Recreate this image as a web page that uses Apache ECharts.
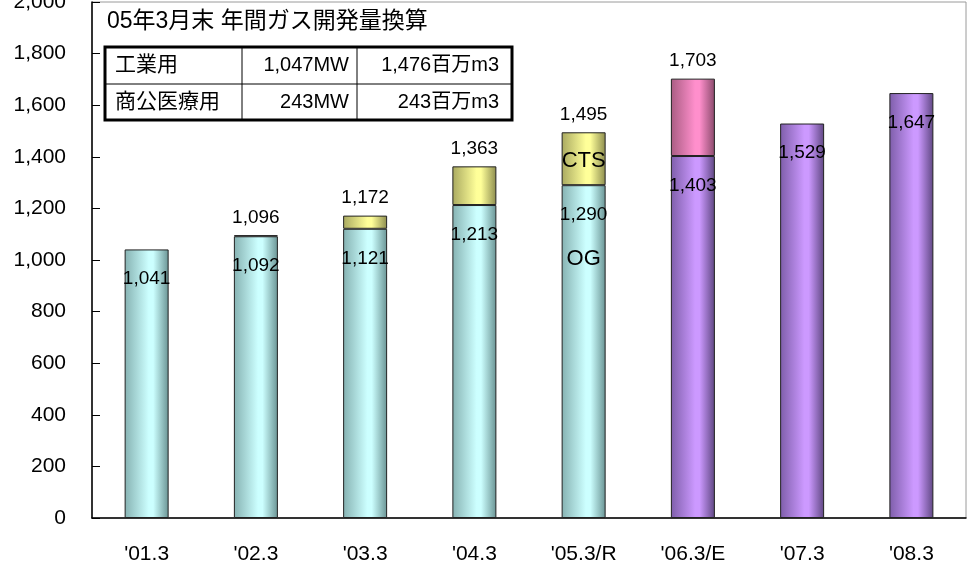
<!DOCTYPE html>
<html>
<head>
<meta charset="utf-8">
<script src="https://cdn.jsdelivr.net/npm/echarts@6/dist/echarts.min.js"></script>
<style>
  html, body { margin: 0; padding: 0; background: #fff; }
  #main { width: 968px; height: 570px; }
</style>
</head>
<body>
<div id="main"></div>
<script>
// categories and values
var categories = ["'01.3", "'02.3", "'03.3", "'04.3", "'05.3/R", "'06.3/E", "'07.3", "'08.3"];
var baseValues = [1041, 1092, 1121, 1213, 1290, 1403, 1529, 1647];
var addValues = [null, 4, 51, 150, 205, 300, null, null];
var purpleFrom = 5; // '06.3/E onward drawn purple / pink

var titleText = '05年3月末 年間ガス開発量換算';
var tableRows = [
  ['工業用', '1,047MW', '1,476百万m3'],
  ['商公医療用', '243MW', '243百万m3']
];

function grad(edge1, mid, edge2) {
  return new echarts.graphic.LinearGradient(0, 0, 1, 0, [
    { offset: 0, color: edge1 },
    { offset: 0.55, color: mid },
    { offset: 0.65, color: mid },
    { offset: 1, color: edge2 }
  ]);
}
var teal = grad('#86b2b2', '#ccffff', '#6a9494');
var yellow = grad('#a9a960', '#ffff99', '#8c8c4e');
var pink = grad('#a85c82', '#ff8fcc', '#8a4a6c');
var purple = grad('#7e5eaa', '#cc99ff', '#5f4782');

function fmt(v) { return echarts.format.addCommas(v); }

var baseData = baseValues.map(function (v, i) {
  return { value: v, itemStyle: { color: i >= purpleFrom ? purple : teal } };
});
var addData = addValues.map(function (v, i) {
  if (v == null) return '-';
  return { value: v, itemStyle: { color: i >= purpleFrom ? pink : yellow } };
});

var font = "'Liberation Sans', 'Noto Sans CJK JP', sans-serif";
var chart = echarts.init(document.getElementById('main'));

var graphics = [];
graphics.push({
  type: 'text', x: 107, y: 22,
  style: { text: titleText, font: '23px ' + font, fill: '#000', textVerticalAlign: 'middle' }
});
// table
var colX = [105, 242, 357, 512], rowY = [47, 84, 120];
tableRows.forEach(function (row, r) {
  var cy = (rowY[r] + rowY[r + 1]) / 2;
  graphics.push({ type: 'text', x: 115, y: cy,
    style: { text: row[0], font: '21px ' + font, fill: '#000', textVerticalAlign: 'middle' } });
  graphics.push({ type: 'text', x: 349, y: cy,
    style: { text: row[1], font: '20px ' + font, fill: '#000', textAlign: 'right', textVerticalAlign: 'middle' } });
  graphics.push({ type: 'text', x: 499, y: cy,
    style: { text: row[2], font: '20px ' + font, fill: '#000', textAlign: 'right', textVerticalAlign: 'middle' } });
});
graphics.push({ type: 'line', shape: { x1: colX[0], y1: rowY[1], x2: colX[3], y2: rowY[1] }, style: { stroke: '#000', lineWidth: 1 } });
graphics.push({ type: 'line', shape: { x1: colX[1], y1: rowY[0], x2: colX[1], y2: rowY[2] }, style: { stroke: '#000', lineWidth: 1 } });
graphics.push({ type: 'line', shape: { x1: colX[2], y1: rowY[0], x2: colX[2], y2: rowY[2] }, style: { stroke: '#000', lineWidth: 1 } });
graphics.push({ type: 'rect', shape: { x: colX[0], y: rowY[0], width: colX[3] - colX[0], height: rowY[2] - rowY[0] },
  style: { fill: null, stroke: '#000', lineWidth: 3 } });

var option = {
  animation: false,
  textStyle: { fontFamily: font },
  grid: { left: 92, right: 2, top: 2, bottom: 52, show: true, borderColor: '#9a9a9a', borderWidth: 1,
    outerBoundsMode: 'none', containLabel: false },
  xAxis: {
    type: 'category',
    data: categories,
    axisLine: { lineStyle: { color: '#000', width: 1.5 } },
    axisTick: { inside: true, length: 8, lineStyle: { color: '#000' } },
    axisLabel: { color: '#000', fontSize: 21, margin: 26 }
  },
  yAxis: {
    type: 'value',
    min: 0, max: 2000, interval: 200,
    axisLine: { show: true, lineStyle: { color: '#000', width: 1.5 } },
    axisTick: { show: true, inside: true, length: 8, lineStyle: { color: '#000' } },
    splitLine: { show: false },
    axisLabel: { color: '#000', fontSize: 21, margin: 26, formatter: function (v) { return fmt(v); } }
  },
  series: [
    {
      type: 'bar', stack: 'total', barWidth: 44,
      data: baseData,
      itemStyle: { borderColor: '#222', borderWidth: 1 },
      label: { show: true, position: 'insideTop', distance: 20, color: '#000', fontSize: 19,
        formatter: function (p) { return fmt(p.value); } },
      markPoint: {
        symbol: 'circle', symbolSize: 0,
        label: { show: true, color: '#000', fontSize: 22, position: 'inside' },
        data: [
          { coord: ["'05.3/R", 1385], label: { formatter: 'CTS' } },
          { coord: ["'05.3/R", 1006], label: { formatter: 'OG' } }
        ]
      }
    },
    {
      type: 'bar', stack: 'total', barWidth: 44,
      data: addData,
      itemStyle: { borderColor: '#222', borderWidth: 1 },
      label: { show: true, position: 'top', distance: 8, color: '#000', fontSize: 19,
        formatter: function (p) { return fmt(baseValues[p.dataIndex] + p.value); } }
    }
  ],
  graphic: graphics
};
chart.setOption(option);
</script>
</body>
</html>
